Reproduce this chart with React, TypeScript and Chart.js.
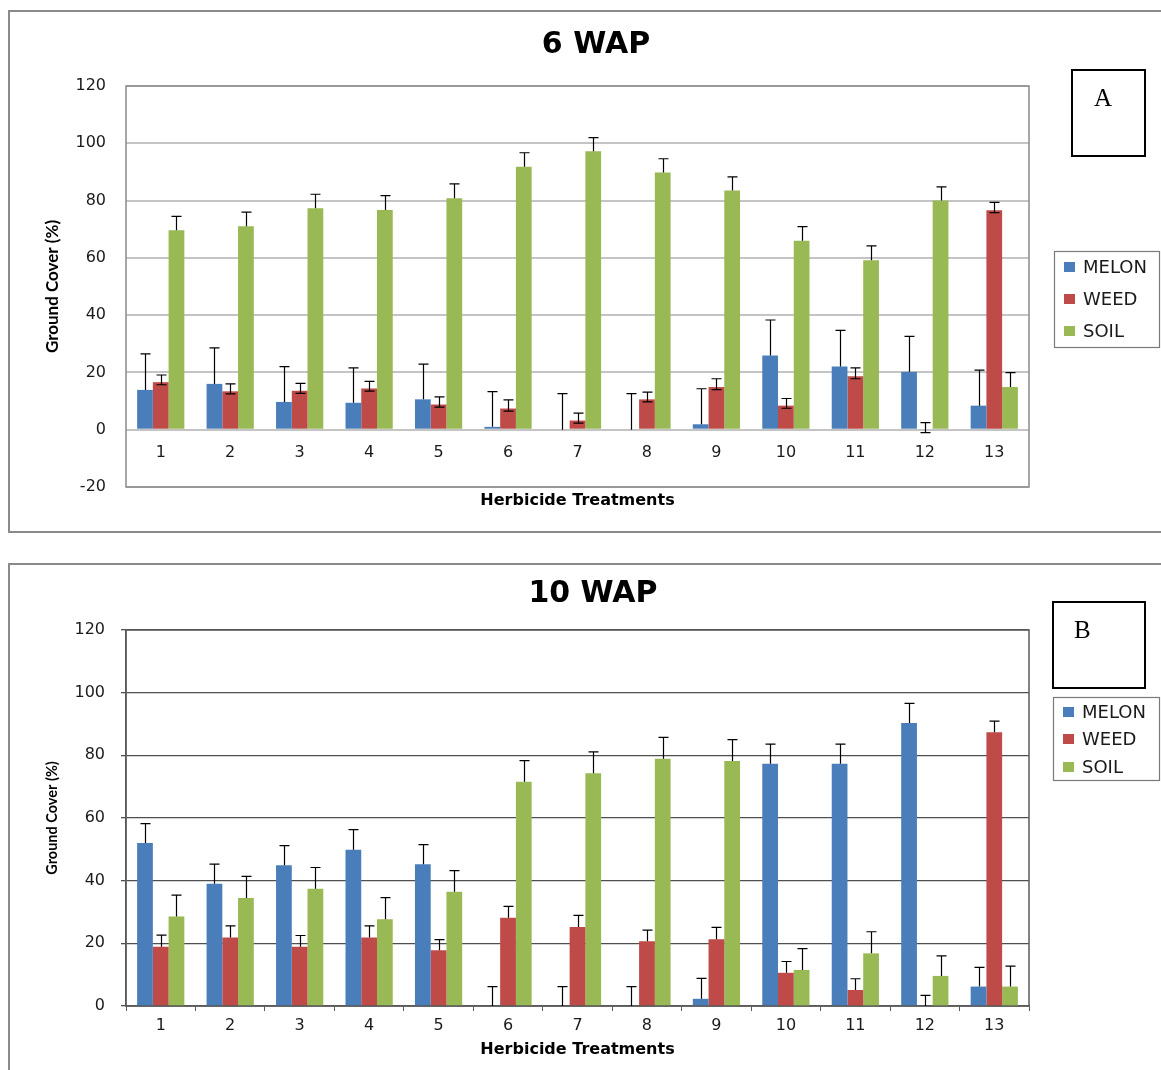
import React, { useEffect, useRef } from 'react';
import { Chart, registerables } from 'chart.js';

Chart.register(...registerables);

// ---------- DATA ----------
const categories = ['1', '2', '3', '4', '5', '6', '7', '8', '9', '10', '11', '12', '13'];
const seriesNames = ['MELON', 'WEED', 'SOIL'];
const seriesColors = ['#4A7EBB', '#BE4B48', '#98B954'];
const yTicksA = [-20, 0, 20, 40, 60, 80, 100, 120];
const yTicksB = [0, 20, 40, 60, 80, 100, 120];

// 6 WAP
const melonA = [13.9, 16.0, 9.7, 9.4, 10.6, 1.0, 0, 0, 1.9, 25.9, 22.1, 20.2, 8.4];
const melonErrA = [12.6, 12.6, 12.3, 12.2, 12.3, 12.3, 12.6, 12.6, 12.4, 12.4, 12.6, 12.4, 12.4];
const weedA = [16.6, 13.4, 13.6, 14.4, 8.8, 7.4, 3.2, 10.6, 14.9, 8.4, 18.7, 0, 76.6];
const weedErrA = [2.5, 2.6, 2.6, 2.5, 2.7, 3.0, 2.6, 2.5, 2.9, 2.5, 2.9, 2.5, 2.8];
const weedErrMinusA = [0.9, 0.9, 0.9, 0.9, 0.9, 0.9, 0.9, 0.9, 0.9, 0.9, 0.9, 1.0, 0.8];
const soilA = [69.6, 71.0, 77.3, 76.7, 80.8, 91.8, 97.2, 89.8, 83.5, 66.0, 59.2, 80.0, 14.9];
const soilErrA = [4.9, 5.0, 4.9, 5.0, 5.0, 4.9, 4.8, 4.8, 4.8, 4.9, 5.0, 4.8, 5.0];

// 10 WAP
const melonB = [52.0, 39.0, 44.9, 49.9, 45.2, 0, 0, 0, 2.3, 77.3, 77.3, 90.3, 6.2];
const melonErrB = [6.2, 6.3, 6.3, 6.4, 6.3, 6.2, 6.2, 6.2, 6.5, 6.3, 6.3, 6.3, 6.1];
const weedB = [18.9, 21.9, 18.9, 21.9, 17.8, 28.2, 25.2, 20.7, 21.3, 10.6, 5.1, 0, 87.4];
const weedErrB = [3.7, 3.7, 3.6, 3.7, 3.4, 3.6, 3.7, 3.5, 3.8, 3.6, 3.6, 3.4, 3.5];
const soilB = [28.6, 34.5, 37.4, 27.7, 36.5, 71.6, 74.3, 78.9, 78.2, 11.5, 16.8, 9.6, 6.2];
const soilErrB = [6.8, 6.9, 6.8, 6.9, 6.7, 6.7, 6.8, 6.8, 6.8, 6.8, 6.9, 6.4, 6.5];

const FONT = "'DejaVu Sans', Verdana, sans-serif";
const YTITLE_FONT = "Lato, 'Liberation Sans', sans-serif";

type Layout = {
  canvasTop: number;
  width: number;
  height: number;
  title: string;
  letter: string;
  letterBox: [number, number, number, number];
  letterPos: [number, number];
  legendBox: [number, number, number, number];
  legendRows: number[];
  plotBorder: string;
};

function makePlugins(L: Layout) {
  const errorBars = {
    id: 'errorBars',
    afterDatasetsDraw(chart: any) {
      const ctx = chart.ctx;
      const ys = chart.scales.y;
      ctx.save();
      ctx.strokeStyle = '#000';
      ctx.lineWidth = 1.2;
      chart.data.datasets.forEach((ds: any, di: number) => {
        const meta = chart.getDatasetMeta(di);
        meta.data.forEach((bar: any, i: number) => {
          const v = ds.data[i];
          const up = ds.errPlus ? ds.errPlus[i] : 0;
          const dn = ds.errMinus ? ds.errMinus[i] : 0;
          const x = Math.round(bar.x) + 0.5;
          const y0 = ys.getPixelForValue(v);
          const cap = 5;
          ctx.beginPath();
          if (up > 0) {
            const y1 = ys.getPixelForValue(v + up);
            ctx.moveTo(x, y0);
            ctx.lineTo(x, y1);
            ctx.moveTo(x - cap, y1);
            ctx.lineTo(x + cap, y1);
          }
          if (dn > 0) {
            const y2 = ys.getPixelForValue(v - dn);
            ctx.moveTo(x, y0);
            ctx.lineTo(x, y2);
            ctx.moveTo(x - cap, y2);
            ctx.lineTo(x + cap, y2);
          }
          ctx.stroke();
        });
      });
      ctx.restore();
    },
  };

  const frame = {
    id: 'frame',
    beforeDatasetsDraw(chart: any) {
      const { ctx, chartArea: a } = chart;
      ctx.save();
      ctx.strokeStyle = L.plotBorder;
      ctx.lineWidth = 1.5;
      ctx.strokeRect(a.left, a.top, a.right - a.left, a.bottom - a.top);
      ctx.restore();
    },
    afterDraw(chart: any) {
      const ctx = chart.ctx;
      ctx.save();
      // letter box
      const [lx, ly, lw, lh] = L.letterBox;
      ctx.strokeStyle = '#000';
      ctx.lineWidth = 2;
      ctx.strokeRect(lx, ly, lw, lh);
      ctx.fillStyle = '#000';
      ctx.font = "25px 'Liberation Serif', 'DejaVu Serif', serif";
      ctx.textBaseline = 'alphabetic';
      ctx.textAlign = 'left';
      ctx.fillText(L.letter, L.letterPos[0], L.letterPos[1]);
      // legend
      const [gx, gy, gw, gh] = L.legendBox;
      ctx.strokeStyle = '#7a7a7a';
      ctx.lineWidth = 1.2;
      ctx.strokeRect(gx + 0.5, gy + 0.5, gw, gh);
      ctx.font = '18px ' + FONT;
      ctx.textBaseline = 'middle';
      chart.data.datasets.forEach((ds: any, i: number) => {
        const yc = L.legendRows[i];
        ctx.fillStyle = ds.backgroundColor;
        ctx.fillRect(gx + 10, yc - 5, 11, 10);
        ctx.fillStyle = '#1a1a1a';
        ctx.fillText(ds.label, gx + 29, yc + 1);
      });
      ctx.restore();
    },
  };
  return [frame, errorBars];
}

function buildDatasets(values: number[][], errs: number[][], errsMinus: (number[] | null)[]) {
  return seriesNames.map((name, i) => ({
    label: name,
    data: values[i],
    errPlus: errs[i],
    errMinus: errsMinus[i],
    backgroundColor: seriesColors[i],
    borderWidth: 0,
    categoryPercentage: 0.68,
    barPercentage: 1.0,
  }));
}

// invisible right-hand axis that reserves the space for legend and letter box
function spacerAxis(w: number) {
  return {
    type: 'linear',
    position: 'right',
    display: true,
    afterFit: (s: any) => { s.width = w; },
    grid: { display: false, drawTicks: false },
    border: { display: false },
    ticks: { display: false },
  };
}

const layoutA: Layout = {
  canvasTop: 0,
  width: 1192,
  height: 540,
  title: '6 WAP',
  letter: 'A',
  letterBox: [1072, 70, 73, 86],
  letterPos: [1094, 106],
  legendBox: [1054, 251, 105, 96],
  legendRows: [267, 299, 331],
  plotBorder: '#8a8a8a',
};

const layoutB: Layout = {
  canvasTop: 548,
  width: 1186,
  height: 522,
  title: '10 WAP',
  letter: 'B',
  letterBox: [1053, 54, 92, 86],
  letterPos: [1074, 90],
  legendBox: [1053, 149, 106, 83],
  legendRows: [164, 191, 219],
  plotBorder: '#5a5a5a',
};

function configA(): any {
  return {
    type: 'bar',
    data: {
      labels: categories,
      datasets: buildDatasets([melonA, weedA, soilA], [melonErrA, weedErrA, soilErrA], [null, weedErrMinusA, null]),
    },
    options: {
      animation: false,
      responsive: false,
      layout: { padding: 0 },
      plugins: {
        legend: { display: false },
        tooltip: { enabled: false },
        title: {
          display: true,
          text: layoutA.title,
          color: '#000',
          font: { family: FONT, size: 30, weight: 'bold' },
          padding: { top: 27, bottom: 23 },
        },
        subtitle: {
          display: true,
          position: 'bottom',
          fullSize: false,
          text: 'Herbicide Treatments',
          color: '#000',
          font: { family: FONT, size: 16, weight: 'bold' },
          padding: { top: 4, bottom: 29.8 },
        },
      },
      scales: {
        x: {
          position: { y: 0 },
          offset: true,
          grid: { display: false },
          border: { display: false },
          ticks: { color: '#1a1a1a', font: { family: FONT, size: 16 }, padding: 6 },
        },
        y: {
          min: -20,
          max: 120,
          afterFit: (s: any) => { s.width = 126; },
          afterBuildTicks: (s: any) => { s.ticks = yTicksA.map((v) => ({ value: v })); },
          grid: { color: '#c4c4c4', lineWidth: 2, drawTicks: false },
          border: { display: false },
          ticks: { color: '#1a1a1a', font: { family: FONT, size: 16 }, padding: 20 },
          title: {
            display: true,
            text: 'Ground Cover (%)',
            color: '#000',
            font: { family: YTITLE_FONT, size: 17, weight: 'bold' },
            padding: { top: 42.8, bottom: 0 },
          },
        },
        yR: spacerAxis(layoutA.width - 1029),
      },
    },
    plugins: makePlugins(layoutA),
  };
}

function configB(): any {
  return {
    type: 'bar',
    data: {
      labels: categories,
      datasets: buildDatasets([melonB, weedB, soilB], [melonErrB, weedErrB, soilErrB], [null, null, null]),
    },
    options: {
      animation: false,
      responsive: false,
      layout: { padding: 0 },
      plugins: {
        legend: { display: false },
        tooltip: { enabled: false },
        title: {
          display: true,
          text: layoutB.title,
          color: '#000',
          font: { family: FONT, size: 30, weight: 'bold' },
          padding: { top: 28, bottom: 18 },
        },
      },
      scales: {
        x: {
          position: 'bottom',
          offset: true,
          afterFit: (s: any) => { s.height = 64; },
          grid: { display: true, drawOnChartArea: false, drawTicks: true, tickLength: 5, offset: true, color: '#5a5a5a' },
          border: { display: true, color: '#5a5a5a', width: 1.5 },
          ticks: { color: '#1a1a1a', font: { family: FONT, size: 16 }, padding: 5 },
          title: {
            display: true,
            text: 'Herbicide Treatments',
            color: '#000',
            font: { family: FONT, size: 16, weight: 'bold' },
            padding: { top: 0, bottom: 10.4 },
          },
        },
        y: {
          min: 0,
          max: 120,
          afterFit: (s: any) => { s.width = 126; },
          afterBuildTicks: (s: any) => { s.ticks = yTicksB.map((v) => ({ value: v })); },
          grid: { color: '#4f4f4f', lineWidth: 1.3, drawTicks: true, tickLength: 5 },
          border: { display: true, color: '#5a5a5a', width: 1.5 },
          ticks: { color: '#1a1a1a', font: { family: FONT, size: 16 }, padding: 16 },
          title: {
            display: true,
            text: 'Ground Cover (%)',
            color: '#000',
            font: { family: YTITLE_FONT, size: 14.5, weight: 'bold' },
            padding: { top: 44, bottom: 0 },
          },
        },
        yR: spacerAxis(layoutB.width - 1029),
      },
    },
    plugins: makePlugins(layoutB),
  };
}

function Panel({ layout, makeConfig }: { layout: Layout; makeConfig: () => any }) {
  const ref = useRef<HTMLCanvasElement | null>(null);
  useEffect(() => {
    if (!ref.current) return;
    const chart = new Chart(ref.current, makeConfig());
    return () => chart.destroy();
  }, []);
  return (
    <canvas
      ref={ref}
      width={layout.width}
      height={layout.height}
      style={{ position: 'absolute', left: 0, top: layout.canvasTop, width: layout.width, height: layout.height }}
    />
  );
}

export default function App() {
  return (
    <div
      style={{
        position: 'fixed',
        left: 0,
        top: 0,
        width: 1161,
        height: 1070,
        overflow: 'hidden',
        background: '#fff',
      }}
    >
      <div
        style={{
          position: 'absolute', left: 8, top: 10, width: 1180, height: 523,
          border: '2px solid #8a8a8a', boxSizing: 'border-box',
        }}
      />
      <div
        style={{
          position: 'absolute', left: 8, top: 563, width: 1180, height: 600,
          border: '2px solid #8a8a8a', boxSizing: 'border-box',
        }}
      />
      <Panel layout={layoutA} makeConfig={configA} />
      <Panel layout={layoutB} makeConfig={configB} />
    </div>
  );
}
